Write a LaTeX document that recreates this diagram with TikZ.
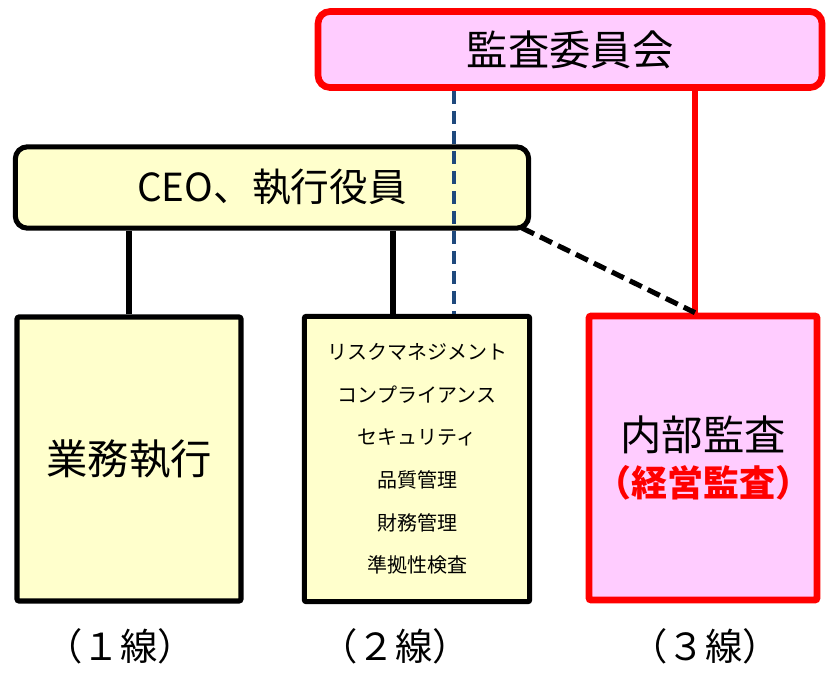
\documentclass[tikz,border=0pt]{standalone}
\usepackage{fontspec}
\setmainfont{Noto Sans CJK JP}
\definecolor{boxpink}{RGB}{255,204,255}
\definecolor{boxyellow}{RGB}{255,255,204}
\definecolor{linkblue}{RGB}{31,73,125}
\begin{document}
\begin{tikzpicture}[x=0.75pt, y=-0.75pt,
  exec/.style={draw=black, line width=3.8pt, fill=boxyellow, inner sep=0pt},
  audit/.style={draw=red, line width=5pt, fill=boxpink, inner sep=0pt},
  link/.style={line width=3.8pt},
  linelabel/.style={font=\fontsize{28}{32}\selectfont}]
  \useasboundingbox (0,0) rectangle (827,672);
  \node[audit, rounded corners=9pt, minimum width=378pt, minimum height=57pt, font=\fontsize{31}{34}\selectfont] (board) at (570,49.5) {監査委員会};
  \node[exec, rounded corners=9pt, minimum width=385pt, minimum height=61pt, font=\fontsize{29}{32}\selectfont] (ceo) at (272,187.5) {CEO、執行役員};
  \node[exec, rounded corners=1.5pt, minimum width=168pt, minimum height=213pt, font=\fontsize{31}{34}\selectfont] (first) at (129,459) {業務執行};
  \node[exec, rounded corners=1.5pt, minimum width=169pt, minimum height=214pt, align=center, font=\fontsize{15}{32}\selectfont] (second) at (417,459)
    {リスクマネジメント\\コンプライアンス\\セキュリティ\\品質管理\\財務管理\\準拠性検査};
  \node[audit, rounded corners=1.5pt, minimum width=171pt, minimum height=213pt, align=center, font=\fontsize{31}{34}\selectfont] (third) at (703,458)
    {内部監査\\{\fontsize{27}{34}\selectfont\bfseries\color{red}（経営監査）}};
  % lines below the boxes
  \node[linelabel] (l1) at (120,646) {（１線）};
  \node[linelabel] (l2) at (395,646) {（２線）};
  \node[linelabel] (l3) at (705,646) {（３線）};
  % connectors
  \draw[link] (first.north) -- (first.north |- ceo.south);
  \draw[link] (393,0 |- second.north) -- (393,0 |- ceo.south);
  \draw[link, draw=linkblue, line width=3.3pt, dash pattern=on 10pt off 5pt] (454,0 |- board.south) -- (454,0 |- second.north);
  \draw[link, draw=red, line width=4.5pt] (695,0 |- board.south) -- (695,0 |- third.north);
  \draw[link, dash pattern=on 10pt off 5pt] (522,228) -- (695,0 |- third.north);
\end{tikzpicture}
\end{document}
